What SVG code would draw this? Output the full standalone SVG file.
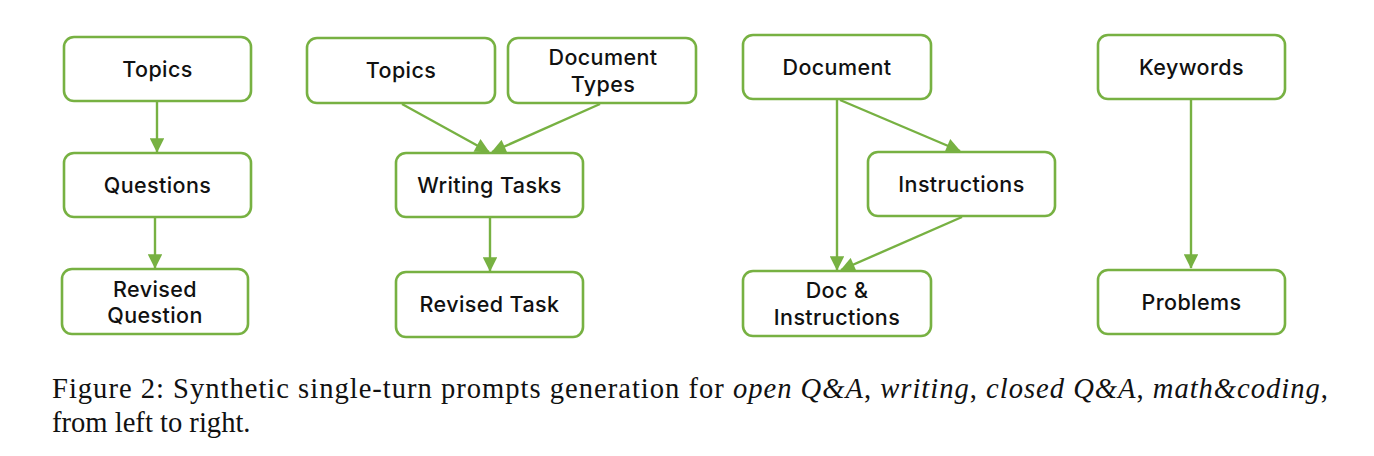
<svg xmlns="http://www.w3.org/2000/svg" width="1374" height="456" viewBox="0 0 1374 456">
<defs>
<style>
.box{fill:#fff;stroke:#77b142;stroke-width:2.6}
.lbl{font-family:Inter,"Noto Sans","DejaVu Sans",sans-serif;font-size:21.5px;font-weight:500;letter-spacing:0.4px;fill:#111;text-anchor:middle}
.edge{stroke:#77b142;stroke-width:2.4;fill:none;marker-end:url(#ah)}
.cap{font-family:"Liberation Serif","Times New Roman",serif;font-size:28.6px;fill:#111}
</style>
<marker id="ah" viewBox="0 0 10 10" refX="9.5" refY="5" markerWidth="6.5" markerHeight="6" orient="auto" markerUnits="strokeWidth">
<path d="M0,0 L10,5 L0,10 z" fill="#77b142"/>
</marker>
</defs>
<rect width="1374" height="456" fill="#fff"/>

<g id="edges">
<line class="edge" x1="157" y1="101" x2="157" y2="152"/>
<line class="edge" x1="155" y1="218" x2="155" y2="268"/>
<line class="edge" x1="402" y1="104" x2="489" y2="152"/>
<line class="edge" x1="600" y1="104" x2="492" y2="152"/>
<line class="edge" x1="490" y1="218" x2="490" y2="271"/>
<line class="edge" x1="837" y1="100" x2="837" y2="270"/>
<line class="edge" x1="840" y1="100" x2="960" y2="151"/>
<line class="edge" x1="962" y1="217" x2="841" y2="270"/>
<line class="edge" x1="1191" y1="100" x2="1191" y2="268"/>
</g>

<g id="n1_topics"><rect class="box" x="64" y="37" width="187" height="64" rx="10"/><text class="lbl" x="157.5" y="77">Topics</text></g>
<g id="n1_questions"><rect class="box" x="64" y="153" width="187" height="64" rx="10"/><text class="lbl" x="157.5" y="193">Questions</text></g>
<g id="n1_revised"><rect class="box" x="62" y="269" width="186" height="65" rx="10"/><text class="lbl" x="155" y="297">Revised</text><text class="lbl" x="155" y="323">Question</text></g>

<g id="n2_topics"><rect class="box" x="307" y="38" width="188" height="65" rx="10"/><text class="lbl" x="401" y="78">Topics</text></g>
<g id="n2_doctypes"><rect class="box" x="508" y="38" width="188" height="65" rx="10"/><text class="lbl" x="603" y="65">Document</text><text class="lbl" x="603" y="92">Types</text></g>
<g id="n2_writing"><rect class="box" x="396" y="153" width="187" height="64" rx="10"/><text class="lbl" x="489.5" y="193">Writing Tasks</text></g>
<g id="n2_revised"><rect class="box" x="396" y="272" width="187" height="65" rx="10"/><text class="lbl" x="489.5" y="312">Revised Task</text></g>

<g id="n3_document"><rect class="box" x="743" y="35" width="188" height="64" rx="10"/><text class="lbl" x="837" y="75">Document</text></g>
<g id="n3_instructions"><rect class="box" x="868" y="152" width="187" height="64" rx="10"/><text class="lbl" x="961.5" y="192">Instructions</text></g>
<g id="n3_docinst"><rect class="box" x="743" y="271" width="188" height="65" rx="10"/><text class="lbl" x="837" y="298">Doc &amp;</text><text class="lbl" x="837" y="325">Instructions</text></g>

<g id="n4_keywords"><rect class="box" x="1098" y="35" width="187" height="64" rx="10"/><text class="lbl" x="1191.5" y="75">Keywords</text></g>
<g id="n4_problems"><rect class="box" x="1098" y="270" width="187" height="64" rx="10"/><text class="lbl" x="1191.5" y="310">Problems</text></g>

<g id="caption">
<text class="cap" x="52" y="398" textLength="1276" lengthAdjust="spacing">Figure 2:  Synthetic single-turn prompts generation for <tspan font-style="italic">open Q&amp;A</tspan>, <tspan font-style="italic">writing</tspan>, <tspan font-style="italic">closed Q&amp;A</tspan>, <tspan font-style="italic">math&amp;coding</tspan>,</text>
<text class="cap" x="52" y="432">from left to right.</text>
</g>
</svg>
